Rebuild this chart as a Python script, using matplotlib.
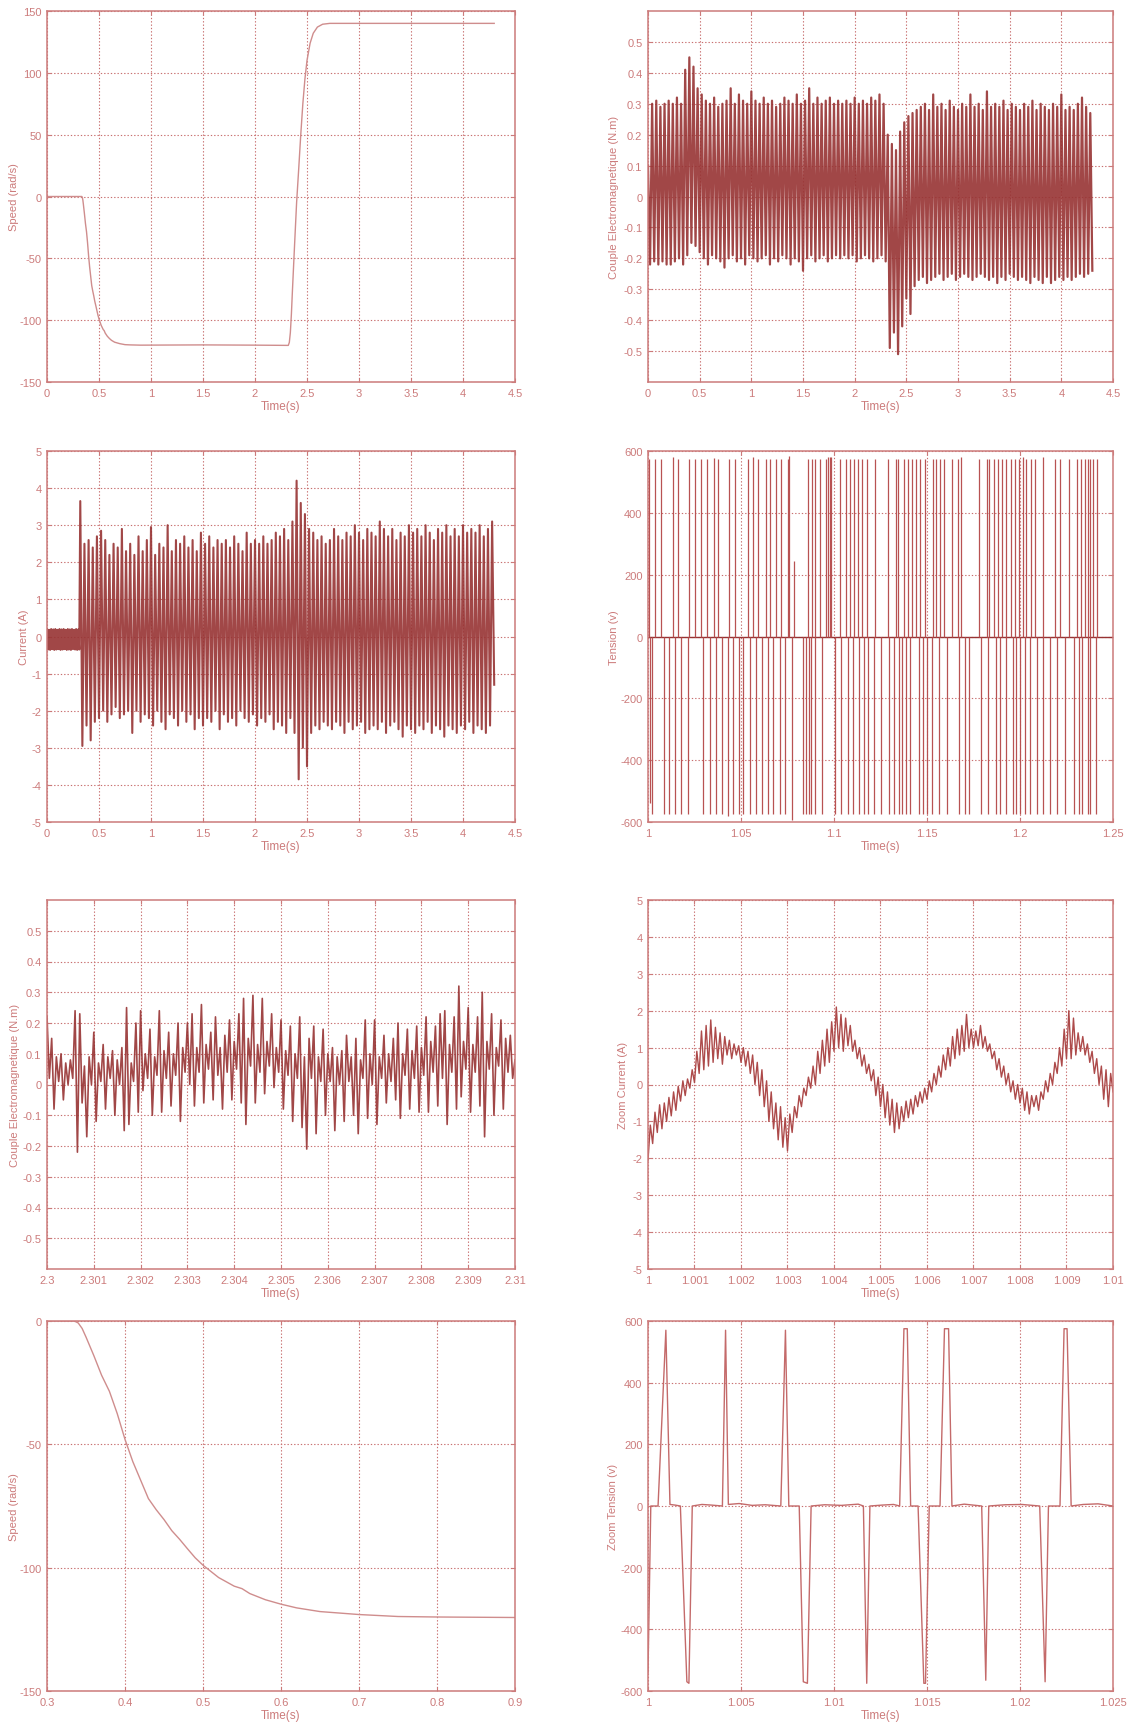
import numpy as np
import matplotlib
matplotlib.use("Agg")
import matplotlib.pyplot as plt
from matplotlib.ticker import FuncFormatter

plt.rcParams['font.family'] = ['Liberation Sans', 'DejaVu Sans']

TXT = "#cc7b7b"
GRID = "#c86f6f"
DARK = "#973333"
LIGHT = "#cf8d8d"

# --- speed (rad/s), full run and start-up zoom share the same trace
speed_t = [0.0, 0.335, 0.34, 0.345, 0.35, 0.36, 0.37, 0.38, 0.39, 0.40, 0.41, 0.42,
           0.43, 0.44, 0.45, 0.46, 0.47, 0.48, 0.49, 0.50, 0.52, 0.54, 0.55, 0.56,
           0.58, 0.60, 0.62, 0.65, 0.70, 0.75, 0.80, 0.90, 1.50, 2.00, 2.32, 2.33,
           2.34, 2.35, 2.36, 2.38, 2.40, 2.42, 2.44, 2.46, 2.48, 2.50, 2.53, 2.56,
           2.60, 2.65, 2.72, 3.00, 4.30]
speed_w = [0.0, 0.0, -0.8, -3.0, -6.5, -14.0, -22.0, -28.5, -37.5, -48.0, -57.0, -64.5,
           -72.0, -76.5, -80.5, -85.0, -88.5, -92.3, -96.0, -99.0, -104.0, -107.5, -108.5, -110.5,
           -113.0, -114.8, -116.3, -117.8, -119.0, -119.8, -120.0, -120.2, -120.0, -120.2, -120.4, -118.0,
           -110.0, -95.0, -76.0, -40.0, -5.0, 22.0, 50.0, 75.0, 95.0, 110.0, 124.0, 132.0,
           137.0, 139.3, 140.0, 140.0, 140.0]

# --- electromagnetic torque (N.m), 0 .. 4.3 s, one sample every 20 ms
torque_dt = 0.02
torque_v = [
    0.10, -0.22, 0.30, -0.21, 0.31, -0.22, 0.29, -0.21, 0.30, -0.22, 0.31, -0.22,
    0.30, -0.21, 0.32, -0.20, 0.30, -0.22, 0.41, -0.19, 0.45, -0.15, 0.42, -0.16,
    0.35, -0.18, 0.33, -0.20, 0.31, -0.22, 0.30, -0.19, 0.32, -0.20, 0.29, -0.21,
    0.30, -0.23, 0.31, -0.20, 0.35, -0.19, 0.30, -0.21, 0.33, -0.20, 0.31, -0.22,
    0.30, -0.19, 0.34, -0.20, 0.31, -0.21, 0.30, -0.20, 0.32, -0.19, 0.30, -0.22,
    0.31, -0.20, 0.29, -0.21, 0.30, -0.19, 0.32, -0.20, 0.31, -0.22, 0.30, -0.20,
    0.33, -0.21, 0.30, -0.24, 0.31, -0.20, 0.35, -0.19, 0.30, -0.21, 0.32, -0.20,
    0.30, -0.19, 0.31, -0.21, 0.32, -0.20, 0.30, -0.19, 0.31, -0.20, 0.30, -0.19,
    0.31, -0.20, 0.30, -0.19, 0.32, -0.21, 0.30, -0.20, 0.31, -0.19, 0.30, -0.20,
    0.32, -0.21, 0.31, -0.20, 0.33, -0.19, 0.30, -0.21, 0.20, -0.49, 0.17, -0.44,
    0.15, -0.51, 0.21, -0.42, 0.24, -0.33, 0.26, -0.38, 0.27, -0.29, 0.28, -0.27,
    0.29, -0.26, 0.30, -0.28, 0.28, -0.27, 0.33, -0.26, 0.29, -0.25, 0.30, -0.27,
    0.28, -0.26, 0.31, -0.25, 0.29, -0.27, 0.28, -0.26, 0.30, -0.25, 0.29, -0.26,
    0.33, -0.27, 0.29, -0.26, 0.30, -0.25, 0.28, -0.26, 0.34, -0.27, 0.29, -0.26,
    0.30, -0.28, 0.29, -0.26, 0.31, -0.27, 0.28, -0.25, 0.30, -0.26, 0.29, -0.27,
    0.28, -0.26, 0.30, -0.27, 0.29, -0.28, 0.31, -0.26, 0.28, -0.27, 0.30, -0.28,
    0.29, -0.26, 0.28, -0.28, 0.30, -0.27, 0.29, -0.26, 0.33, -0.27, 0.28, -0.26,
    0.29, -0.27, 0.28, -0.26, 0.30, -0.25, 0.32, -0.26, 0.29, -0.25, 0.27, -0.24,
]

# --- stator current (A): no-load part at 10 ms, then 20 ms from 0.32 s
cur_idle_dt = 0.01
cur_idle = [0.20, -0.35, 0.18, -0.36, 0.20, -0.34, 0.19, -0.36, 0.20, -0.35, 0.18,
            -0.34, 0.20, -0.36, 0.19, -0.35, 0.20, -0.34, 0.18, -0.36, 0.20, -0.35,
            0.19, -0.36, 0.20, -0.34, 0.18, -0.35, 0.20, -0.36, 0.19, -0.35]
cur_run_t0 = 0.32
cur_run_dt = 0.02
cur_run = [
    3.65, -2.95, 2.5, -2.4, 2.6, -2.8, 2.4, -2.3, 2.7, -2.2,
    2.85, -2.0, 2.6, -2.3, 2.2, -2.1, 2.5, -1.9, 2.4, -2.2,
    2.9, -2.1, 2.3, -2.0, 2.5, -2.6, 2.2, -2.0, 2.7, -2.3,
    2.3, -2.1, 2.6, -2.2, 2.95, -2.4, 2.2, -2.0, 2.5, -2.3,
    2.4, -2.5, 3.0, -2.1, 2.3, -2.2, 2.6, -2.4, 2.5, -2.0,
    2.7, -2.3, 2.4, -2.1, 2.6, -2.5, 2.3, -2.2, 2.8, -2.4,
    2.5, -2.2, 2.7, -2.3, 2.4, -2.0, 2.6, -2.5, 2.5, -2.1,
    2.6, -2.3, 2.4, -2.2, 2.7, -2.4, 2.5, -2.0, 2.3, -2.2,
    2.8, -2.3, 2.5, -2.1, 2.6, -2.4, 2.5, -2.2, 2.7, -2.3,
    2.5, -2.1, 2.6, -2.5, 2.8, -2.3, 2.7, -2.4, 2.9, -2.6,
    2.6, -2.2, 3.1, -2.6, 4.2, -3.85, 3.6, -3.0, 3.3, -3.5,
    2.9, -2.6, 2.8, -2.4, 2.6, -2.5, 2.7, -2.3, 2.5, -2.4,
    2.6, -2.5, 2.9, -2.3, 2.7, -2.4, 2.6, -2.6, 2.8, -2.3,
    2.7, -2.5, 3.0, -2.4, 2.8, -2.3, 2.6, -2.6, 2.9, -2.5,
    2.8, -2.4, 2.7, -2.5, 3.1, -2.3, 2.9, -2.6, 2.7, -2.4,
    2.9, -2.3, 2.6, -2.5, 2.8, -2.7, 2.7, -2.4, 3.0, -2.5,
    2.8, -2.6, 2.9, -2.4, 2.7, -2.5, 3.0, -2.3, 2.8, -2.6,
    2.6, -2.4, 2.9, -2.5, 2.8, -2.7, 3.0, -2.4, 2.7, -2.5,
    2.9, -2.6, 2.7, -2.4, 3.0, -2.5, 2.8, -2.3, 2.9, -2.6,
    2.8, -2.4, 3.0, -2.5, 2.7, -2.6, 2.9, -2.4, 3.1, -1.3,
]

# --- phase voltage (V), 1.00 .. 1.25 s: pulse instants in ms after 1 s
volt_pos_ms = [0.6, 3.8, 7.2, 13.6, 16.0, 22.3, 25.3, 28.7, 31.7, 35.5, 37.4, 43.8,
               46.8, 53.8, 56.6, 59.2, 63.2, 65.7, 68.9, 71.7, 75.1, 76.0, 78.5, 85.8,
               88.3, 89.6, 92.3, 95.8, 97.0, 97.7, 98.5, 103.0, 106.2, 108.7, 110.6,
               112.8, 115.3, 117.9, 122.3, 129.1, 133.2, 134.5, 137.4, 139.8, 141.7,
               144.2, 146.4, 148.7, 153.2, 154.7, 157.2, 159.2, 163.4, 166.4, 168.1,
               177.7, 182.1, 183.6, 186.0, 188.3, 190.2, 192.6, 195.3, 197.2, 199.2,
               201.5, 203.4, 205.7, 208.3, 212.3, 218.9, 221.5, 226.4, 230.4, 232.6,
               234.9, 236.8, 237.7, 239.2, 241.5]
volt_pos_v = [575, 575, 575, 580, 575, 575, 575, 575, 575, 578, 575, 575,
              575, 575, 580, 575, 575, 575, 575, 575, 575, 585, 245, 575,
              575, 575, 575, 575, 580, 580, 580, 575, 575, 575, 575,
              575, 575, 575, 575, 575, 575, 575, 575, 575, 575,
              575, 575, 575, 575, 575, 575, 575, 575, 575, 580,
              575, 575, 575, 575, 575, 575, 575, 575, 575, 575,
              580, 575, 575, 575, 580, 575, 575, 575, 575, 575,
              575, 575, 575, 575, 575]
volt_neg_ms = [0.9, 2.3, 8.5, 11.3, 14.7, 17.9, 21.3, 29.8, 33.2, 36.4, 39.6, 43.0,
               45.8, 49.1, 50.9, 54.7, 57.9, 61.3, 64.3, 67.2, 70.8, 73.8, 77.5, 83.6,
               84.7, 86.6, 87.7, 89.8, 93.6, 100.6, 103.8, 107.5, 110.0, 113.4, 116.2,
               118.1, 121.5, 125.3, 129.8, 132.3, 134.7, 136.6, 138.9, 141.1, 145.5,
               147.7, 150.0, 152.8, 156.6, 160.9, 167.2, 170.4, 172.8, 179.2, 182.6,
               187.0, 189.4, 192.6, 196.2, 198.1, 199.8, 202.6, 205.3, 209.1, 212.5,
               216.0, 220.0, 224.2, 228.9, 231.7, 233.6, 236.8, 237.7, 240.8]
volt_neg_v = [-540, -575, -575, -575, -575, -575, -575, -575, -575, -575, -575, -580,
              -575, -575, -575, -575, -575, -575, -575, -575, -575, -575, -595, -575,
              -575, -575, -575, -575, -575, -575, -575, -575, -575, -575, -575,
              -575, -575, -575, -575, -575, -575, -575, -575, -575, -575,
              -575, -575, -575, -575, -575, -575, -575, -575, -575, -575,
              -575, -575, -575, -575, -575, -575, -575, -575, -575, -575,
              -575, -575, -575, -575, -575, -575, -575, -575, -575]

# --- torque zoom (N.m), 2.300 .. 2.310 s, one sample every 0.05 ms
tz_t0 = 2.3
tz_dt = 0.00005
tz_v = [
    0.22, 0.02, 0.15, -0.08, 0.09, 0.01, 0.10, -0.05, 0.07, 0.00, 0.08, 0.02, 0.24, -0.22, 0.23, -0.06, 0.06, -0.17, 0.09, 0.00,
    0.17, -0.12, 0.07, 0.01, 0.13, -0.08, 0.09, 0.02, 0.11, -0.10, 0.08, 0.00, 0.12, -0.15, 0.25, -0.13, 0.07, 0.01, 0.20, -0.09,
    0.24, -0.02, 0.10, 0.02, 0.18, -0.10, 0.09, 0.03, 0.24, -0.09, 0.11, 0.02, 0.17, -0.07, 0.10, 0.03, 0.20, -0.12, 0.12, 0.04,
    0.20, 0.00, 0.23, -0.07, 0.12, 0.04, 0.26, -0.06, 0.13, 0.05, 0.17, -0.05, 0.22, 0.03, 0.12, -0.08, 0.16, 0.04, 0.21, -0.05,
    0.14, 0.05, 0.23, -0.06, 0.28, -0.13, 0.15, 0.06, 0.29, -0.06, 0.13, 0.04, 0.28, -0.03, 0.14, 0.06, 0.23, -0.01, 0.12, 0.04,
    0.21, -0.08, 0.11, 0.03, 0.19, -0.12, 0.10, 0.02, 0.22, -0.14, 0.09, -0.21, 0.15, 0.02, 0.19, -0.16, 0.09, 0.01, 0.18, -0.10,
    0.10, 0.01, 0.12, -0.15, 0.09, 0.00, 0.11, -0.12, 0.16, 0.01, 0.09, -0.10, 0.15, -0.16, 0.08, 0.02, 0.21, -0.11, 0.10, 0.00,
    0.21, -0.13, 0.09, 0.02, 0.16, -0.06, 0.10, 0.01, 0.15, -0.05, 0.20, -0.11, 0.10, 0.03, 0.18, -0.08, 0.11, 0.02, 0.19, -0.09,
    0.12, 0.03, 0.22, -0.09, 0.14, 0.04, 0.19, -0.07, 0.23, 0.02, 0.24, -0.13, 0.13, 0.04, 0.22, -0.08, 0.32, -0.04, 0.14, 0.05,
    0.25, -0.09, 0.13, 0.04, 0.22, -0.07, 0.30, -0.17, 0.14, 0.05, 0.23, -0.10, 0.12, 0.06, 0.21, -0.08, 0.15, 0.04, 0.16, 0.02,
    0.08,
]

# --- current zoom (A), 1.000 .. 1.010 s, one sample every 0.05 ms
iz_t0 = 1.0
iz_dt = 0.00005
iz_v = [
    -2.05, -1.1, -1.6, -0.75, -1.3, -0.55, -1.2, -0.5, -1.0, -0.35, -0.85, -0.2, -0.7, -0.05, -0.45, 0.1, -0.3, 0.15, -0.1, 0.4,
    0.05, 0.9, 0.3, 1.45, 0.4, 1.6, 0.5, 1.75, 0.6, 1.55, 0.7, 1.4, 0.55, 1.3, 0.8, 1.2, 0.7, 1.1, 0.8, 1.05,
    0.6, 1.0, 0.5, 0.9, 0.3, 0.8, 0.0, 0.6, -0.3, 0.4, -0.6, 0.1, -1.0, -0.2, -1.2, -0.5, -1.5, -0.6, -1.7, -0.9,
    -1.8, -0.8, -1.3, -0.6, -0.9, -0.3, -0.6, -0.1, -0.3, 0.2, -0.1, 0.5, 0.0, 0.9, 0.3, 1.2, 0.5, 1.5, 0.6, 1.7,
    0.9, 2.1, 1.0, 1.9, 0.9, 1.8, 1.05, 1.6, 0.9, 1.2, 0.7, 1.0, 0.5, 0.8, 0.3, 0.55, 0.1, 0.4, -0.3, 0.2,
    -0.6, 0.0, -0.9, -0.2, -1.1, -0.4, -1.3, -0.5, -1.2, -0.6, -1.0, -0.45, -0.9, -0.4, -0.8, -0.3, -0.6, -0.2, -0.5, -0.1,
    -0.4, 0.1, -0.2, 0.3, 0.0, 0.5, 0.2, 0.8, 0.4, 1.0, 0.5, 1.3, 0.7, 1.5, 0.8, 1.6, 0.9, 1.9, 1.0, 1.5,
    1.0, 1.45, 1.05, 1.6, 1.0, 1.3, 0.9, 1.1, 0.7, 0.9, 0.4, 0.7, 0.2, 0.5, 0.0, 0.3, -0.2, 0.1, -0.4, 0.0,
    -0.5, -0.1, -0.7, -0.2, -0.8, -0.3, -0.6, -0.3, -0.7, -0.2, -0.4, 0.1, -0.2, 0.3, 0.0, 0.6, 0.3, 1.0, 0.5, 1.5,
    0.7, 2.0, 0.7, 1.8, 0.8, 1.4, 0.9, 1.3, 0.8, 1.1, 0.6, 0.9, 0.3, 0.7, 0.0, 0.5, -0.4, 0.4, -0.6, 0.3,
    -0.2,
]

# --- voltage zoom (V), 1.000 .. 1.025 s, points in ms after 1 s
vz_ms = [0.0, 0.15, 0.54, 0.96, 1.18, 1.45, 1.74, 2.09, 2.20, 2.38, 2.9, 3.4, 4.0,
         4.17, 4.32, 4.9, 5.6, 6.3, 7.14, 7.39, 7.57, 8.13, 8.35, 8.57, 8.77, 9.5,
         10.4, 11.3, 11.58, 11.76, 11.93, 12.6, 13.2, 13.53, 13.76, 13.94, 14.12, 14.52,
         14.83, 14.92, 15.12, 15.70, 15.94, 16.16, 16.34, 17.0, 17.94, 18.16, 18.32,
         19.2, 20.1, 21.06, 21.35, 21.53, 22.15, 22.37, 22.53, 22.75, 23.4, 24.2, 25.0]
vz_v = [-540, 0, 0, 570, 5, 3, 0, -570, -575, 0, 5, 3, 0,
        570, 5, 8, 2, 4, 0, 570, 0, 0, -570, -575, 0, 4,
        2, 6, 0, -575, 0, 3, 5, 0, 575, 575, 0, 0,
        -575, -575, 0, 0, 575, 575, 0, 6, 0, -565, 0,
        4, 5, 0, -570, 0, 0, 575, 575, 0, 5, 7, 0]


def pretty(v, _pos):
    return "%g" % (round(v, 6) + 0.0)


fig = plt.figure(figsize=(11.34, 17.24), dpi=100)
W, H = 1134.0, 1724.0
cols = [(47, 468), (648, 465)]
rows = [(12, 371), (452, 371), (901, 369), (1322, 370)]


def make_ax(r, c):
    x0, w = cols[c]
    y0, h = rows[r]
    return fig.add_axes([x0 / W, 1 - (y0 + h) / H, w / W, h / H])


def style(ax, xlim, xstep, ylim, yticks, ylabel, label_px):
    ax.set_xlim(*xlim)
    ax.set_ylim(*ylim)
    n = int(round((xlim[1] - xlim[0]) / xstep))
    ax.set_xticks(xlim[0] + xstep * np.arange(n + 1))
    ax.set_yticks(yticks)
    ax.xaxis.set_major_formatter(FuncFormatter(pretty))
    ax.yaxis.set_major_formatter(FuncFormatter(pretty))
    ax.grid(True, color=GRID, linestyle=(0, (1.2, 1.8)), linewidth=0.8)
    for s in ax.spines.values():
        s.set_color(TXT)
        s.set_linewidth(1.1)
    ax.tick_params(colors=TXT, labelcolor=TXT, labelsize=8, direction="in",
                   length=3, width=0.8, pad=4, top=True, right=True)
    ax.set_xlabel("Time(s)", color=TXT, fontsize=8.5, labelpad=2)
    ax.set_ylabel(ylabel, color=TXT, fontsize=8, va="center")
    # place the y label centre at a fixed pixel column
    bbox = ax.get_position()
    x_ax = (label_px / W - bbox.x0) / bbox.width
    ax.yaxis.set_label_coords(x_ax, 0.5)


# speed
ax = make_ax(0, 0)
ax.plot(speed_t, speed_w, color=LIGHT, lw=1.0)
style(ax, (0, 4.5), 0.5, (-150, 150), np.arange(-150, 151, 50), "Speed (rad/s)", 14)

# torque
ax = make_ax(0, 1)
t = np.arange(len(torque_v)) * torque_dt
ax.plot(t, torque_v, color=DARK, lw=1.6, alpha=0.9)
style(ax, (0, 4.5), 0.5, (-0.6, 0.6), np.round(np.arange(-0.5, 0.51, 0.1), 1),
      "Couple Electromagnetique (N.m)", 614)

# current
ax = make_ax(1, 0)
t = np.concatenate([np.arange(len(cur_idle)) * cur_idle_dt,
                    cur_run_t0 + np.arange(len(cur_run)) * cur_run_dt])
ax.plot(t, np.concatenate([cur_idle, cur_run]), color=DARK, lw=1.5, alpha=0.9)
style(ax, (0, 4.5), 0.5, (-5, 5), np.arange(-5, 6, 1), "Current (A)", 24)

# voltage
ax = make_ax(1, 1)
ax.plot([1.0, 1.25], [0, 0], color=DARK, lw=1.0)
ax.vlines(1 + np.array(volt_pos_ms) / 1000, 0, volt_pos_v, color="#b85252", lw=0.9)
ax.vlines(1 + np.array(volt_neg_ms) / 1000, 0, volt_neg_v, color="#b85252", lw=0.9)
style(ax, (1.0, 1.25), 0.05, (-600, 600), np.arange(-600, 601, 200), "Tension (v)", 614)

# torque zoom
ax = make_ax(2, 0)
t = tz_t0 + np.arange(len(tz_v)) * tz_dt
ax.plot(t, tz_v, color=DARK, lw=1.2, alpha=0.9)
style(ax, (2.3, 2.31), 0.001, (-0.6, 0.6), np.round(np.arange(-0.5, 0.51, 0.1), 1),
      "Couple Electromagnetique (N.m)", 15)

# current zoom
ax = make_ax(2, 1)
t = iz_t0 + np.arange(len(iz_v)) * iz_dt
ax.plot(t, iz_v, color="#ad4a4a", lw=1.0)
style(ax, (1.0, 1.01), 0.001, (-5, 5), np.arange(-5, 6, 1), "Zoom Current (A)", 623)

# speed zoom
ax = make_ax(3, 0)
ax.plot(speed_t, speed_w, color=LIGHT, lw=1.0)
style(ax, (0.3, 0.9), 0.1, (-150, 0), np.arange(-150, 1, 50), "Speed (rad/s)", 14)

# voltage zoom
ax = make_ax(3, 1)
ax.plot(1 + np.array(vz_ms) / 1000, vz_v, color="#c46a6a", lw=1.0)
style(ax, (1.0, 1.025), 0.005, (-600, 600), np.arange(-600, 601, 200),
      "Zoom Tension (v)", 613)

fig.savefig("out.png", dpi=100, facecolor="white")
